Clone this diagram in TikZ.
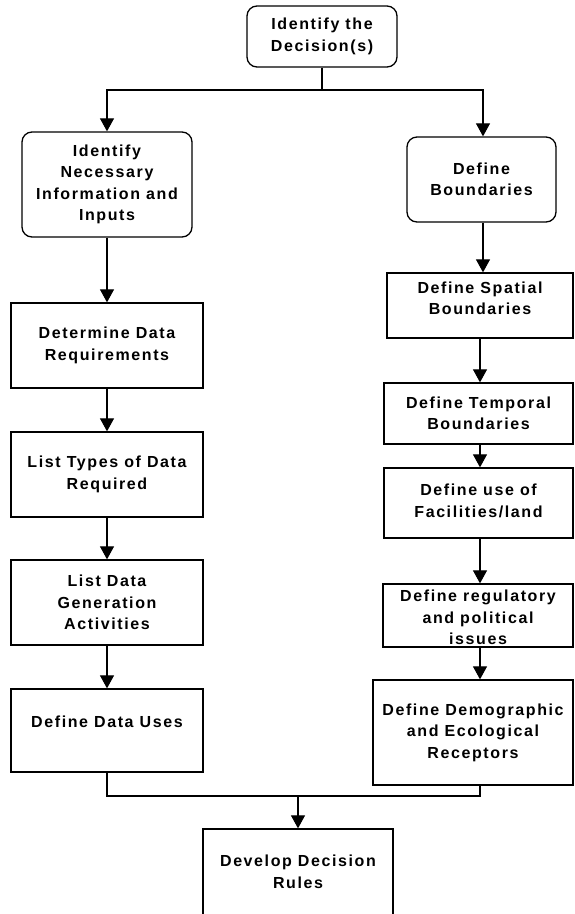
\documentclass[tikz,border=0pt]{standalone}
\usepackage{fontspec}
\setmainfont{Liberation Sans}[LetterSpace=10]
\usetikzlibrary{arrows.meta,fit}
\begin{document}
\begin{tikzpicture}[x=1pt,y=-1pt,
  sq/.style={draw, line width=1.3pt, inner sep=0pt},
  rnd/.style={draw, line width=1.3pt, inner sep=0pt, rounded corners=10pt},
  lbl/.style={font=\fontsize{16}{21.5}\selectfont\bfseries, align=center, inner sep=0pt},
  flow/.style={-{Triangle[width=14pt,length=13pt]}, line width=1.1pt},
  link/.style={line width=1.1pt}
]
\useasboundingbox (0,0) rectangle (574,914);
\clip (0,0) rectangle (574,914);

% column guides for the connectors
\coordinate (rcol) at (480,0);
\coordinate (bcol) at (483,0);
\coordinate (split) at (322,90);
\coordinate (join) at (298,796);

% top
\node[rnd, fit={(247,6)(397,67)}] (dec) {};
\node[lbl] (decT) at (dec.center) {Identify the\\Decision(s)};

% left branch
\node[rnd, fit={(22,132)(192,237)}] (info) {};
\node[lbl] (infoT) at (info.center) {Identify\\Necessary\\Information and\\Inputs};
\node[sq, fit={(11,303)(203,388)}] (req) {};
\node[lbl] (reqT) at (req.center) {Determine Data\\Requirements};
\node[sq, fit={(11,432)(203,517)}] (types) {};
\node[lbl] (typesT) at (types.center) {List Types of Data\\Required};
\node[sq, fit={(11,560)(203,645)}] (gen) {};
\node[lbl] (genT) at (gen.center) {List Data\\Generation\\Activities};
\node[sq, fit={(11,689)(203,772)}] (uses) {};
\node[lbl, yshift=9pt] (usesT) at (uses.center) {Define Data Uses};

% right branch
\node[rnd, fit={(407,137)(556,222)}] (bound) {};
\node[lbl] (boundT) at (bound.center) {Define\\Boundaries};
\node[sq, fit={(387,273)(573,338)}] (spat) {};
\node[lbl, yshift=7pt] (spatT) at (spat.center) {Define Spatial\\Boundaries};
\node[sq, fit={(384,383)(573,444)}] (temp) {};
\node[lbl] (tempT) at (temp.center) {Define Temporal\\Boundaries};
\node[sq, fit={(384,468)(573,538)}] (fac) {};
\node[lbl, yshift=2pt] (facT) at (fac.center) {Define use of\\Facilities/land};
\node[sq, fit={(383,584)(573,647)}] (reg) {};
\node[lbl, yshift=-2pt] (regT) at (reg.center) {Define regulatory\\and political\\issues};
\node[sq, fit={(373,680)(573,785)}] (demo) {};
\node[lbl] (demoT) at (demo.center) {Define Demographic\\and Ecological\\Receptors};

% bottom
\node[sq, fit={(203,829)(393,930)}] (rules) {};
\node[lbl] (rulesT) at (298,872) {Develop Decision\\Rules};

% connectors
\draw[link] (dec.south) -- (split);
\draw[flow] (split) -| (info.north);
\draw[flow] (split) -| (bound.north -| bcol);
\draw[flow] (info.south) -- (req.north);
\draw[flow] (req.south) -- (types.north);
\draw[flow] (types.south) -- (gen.north);
\draw[flow] (gen.south) -- (uses.north);
\draw[flow] (bound.south -| bcol) -- (spat.north -| bcol);
\draw[flow] (spat.south -| rcol) -- (temp.north -| rcol);
\draw[flow] (temp.south -| rcol) -- (fac.north -| rcol);
\draw[flow] (fac.south -| rcol) -- (reg.north -| rcol);
\draw[flow] (reg.south -| rcol) -- (demo.north -| rcol);
\draw[link] (uses.south) |- (join);
\draw[link] (demo.south -| rcol) |- (join);
\draw[flow] (join) -- (rules.north);
\end{tikzpicture}
\end{document}
